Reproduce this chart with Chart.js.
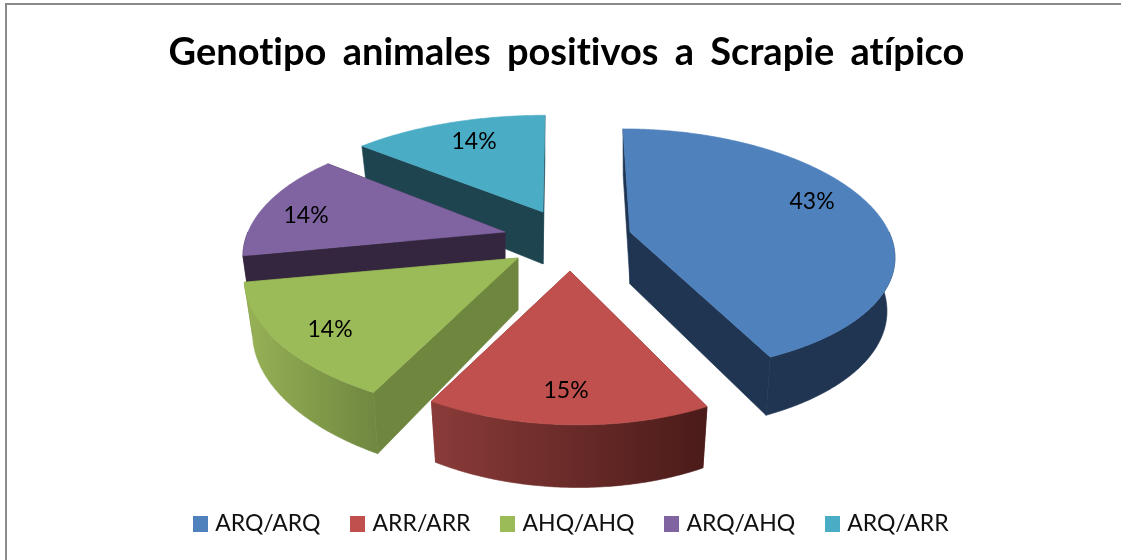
<!DOCTYPE html>
<html><head><meta charset="utf-8">
<style>html,body{margin:0;padding:0;background:#fff}#w{width:1121px;height:560px}canvas{display:block}</style>
<script src="https://cdn.jsdelivr.net/npm/chart.js@4"></script>
</head><body><div id="w"><canvas id="c" width="1121" height="560"></canvas></div>
<script>
const TITLE = 'Genotipo animales positivos a Scrapie atípico';
const categories = ['ARQ/ARQ','ARR/ARR','AHQ/AHQ','ARQ/AHQ','ARQ/ARR'];
const percentValues = [43,15,14,14,14];
const topColors = ['#4F81BD','#C0504D','#9BBB59','#8064A2','#4BACC6'];
const wallColors = ['#1F3552','#7A3331','#6F863E','#35263F','#1E4450'];
const rimStart = ['#1F3552','#8A3B39','#97B256','#35263F','#1E4450'];
const rimEnd = ['#1F3552','#4A1B19','#708840','#35263F','#1E4450'];
const sliceApex = [[630,232],[570,271],[518,258],[505,232],[543,212]];
// per-slice view: radius x, radius y, perspective x, perspective y, skew
const sliceView = [[259,119,.18,.154,.068],[244,120,.22,.22,.054],[270,124,.22,.22,.123],[257,122,.22,.22,.051],[270,118,.22,.22,-.02]];
const labelDelta = [[182,-30],[-4,120],[-188,72],[-199,-16],[-69,-70]];
const paintOrder = [4,3,0,2,1];
const DEPTH = 52;

function project(i, theta, r){
  const [rx, ry, px, py, s] = sliceView[i], c = Math.cos(theta);
  const dy = -ry * r * c / (1 + py * r * c);
  const dx = rx * r * Math.sin(theta) / (1 + px * r * c) + s * dy;
  return {x: sliceApex[i][0] + dx, y: sliceApex[i][1] + dy, w: 1 + py * r * c};
}
function lower(i, p){
  const ax = sliceApex[i][0];
  return {x: ax + (p.x - ax) * 0.97, y: p.y + DEPTH * Math.pow(1 / p.w, 0.75)};
}
function arcPoints(i, a0, a1){
  const n = Math.max(2, Math.ceil(Math.abs(a1 - a0) / 0.01)), pts = [];
  for (let k = 0; k <= n; k++) pts.push(project(i, a0 + (a1 - a0) * k / n, 1));
  return pts;
}
function fillPoly(ctx, pts, fill){
  ctx.beginPath();
  pts.forEach((p, k) => k ? ctx.lineTo(p.x, p.y) : ctx.moveTo(p.x, p.y));
  ctx.closePath();
  ctx.fillStyle = fill; ctx.strokeStyle = fill; ctx.lineWidth = 0.6;
  ctx.fill(); ctx.stroke();
}
const pie3d = {
  id: 'pie3d',
  beforeDatasetDraw(chart){
    const ctx = chart.ctx, arcs = chart.getDatasetMeta(0).data;
    ctx.save();
    paintOrder.forEach(i => {
      const a0 = arcs[i].startAngle + Math.PI / 2, a1 = arcs[i].endAngle + Math.PI / 2;
      const apex = project(i, 0, 0);
      const pts = arcPoints(i, a0, a1);
      [pts[0], pts[pts.length - 1]].forEach(e => {
        fillPoly(ctx, [apex, e, lower(i, e), lower(i, apex)], wallColors[i]);
      });
      const f0 = Math.max(a0, Math.PI / 2), f1 = Math.min(a1, Math.PI * 1.5);
      if (f1 > f0) {
        const rim = arcPoints(i, f0, f1);
        const low = rim.map(p => lower(i, p)).reverse();
        const xs = rim.map(p => p.x);
        const g = ctx.createLinearGradient(Math.min(...xs), 0, Math.max(...xs), 0);
        g.addColorStop(0, rimStart[i]);
        g.addColorStop(1, rimEnd[i]);
        fillPoly(ctx, rim.concat(low), g);
      }
      fillPoly(ctx, [apex].concat(pts), topColors[i]);
    });
    ctx.fillStyle = '#000'; ctx.font = '23px Lato'; ctx.textAlign = 'center'; ctx.textBaseline = 'middle';
    percentValues.forEach((v, i) => {
      ctx.fillText(v + '%', sliceApex[i][0] + labelDelta[i][0], sliceApex[i][1] + labelDelta[i][1]);
    });
    ctx.restore();
    return false;
  }
};
const frame = {
  id: 'frame',
  afterLayout(chart){
    chart.titleBlock.left += 6; chart.titleBlock.right += 6;
    chart.legend.left += 12; chart.legend.right += 12;
  },
  beforeDraw(chart){
    const ctx = chart.ctx;
    ctx.save(); ctx.strokeStyle = '#8A8A8A'; ctx.lineWidth = 2;
    ctx.beginPath(); ctx.moveTo(6, 560); ctx.lineTo(6, 4); ctx.lineTo(1121, 4); ctx.stroke();
    ctx.restore();
    ctx.wordSpacing = '7px'; ctx.letterSpacing = '0.01px';
  },
  afterDraw(chart){ chart.ctx.wordSpacing = '0px'; chart.ctx.letterSpacing = '0px'; }
};
function swatch(color){
  const s = document.createElement('canvas'); s.width = 15; s.height = 16;
  const g = s.getContext('2d'); g.fillStyle = color; g.fillRect(0, 0, 15, 16);
  return s;
}
new Chart(document.getElementById('c'), {
  type: 'pie',
  data: {labels: categories, datasets: [{data: percentValues, backgroundColor: topColors, borderWidth: 0}]},
  options: {
    responsive: false, animation: false,
    layout: {padding: {top: 30, bottom: 15}},
    plugins: {
      title: {display: true, text: TITLE, color: '#000', font: {family: 'Lato', size: 38, weight: 'bold'}, padding: {top: 0, bottom: 10}},
      legend: {position: 'bottom', labels: {
        usePointStyle: true, pointStyleWidth: 7, boxHeight: 15, padding: 33.5, color: '#111', font: {family: 'Lato', size: 23},
        generateLabels(chart){
          return Chart.overrides.pie.plugins.legend.labels.generateLabels(chart).map((it, i) => Object.assign(it, {pointStyle: swatch(topColors[i])}));
        }
      }},
      tooltip: {enabled: false}
    }
  },
  plugins: [frame, pie3d]
});
</script></body></html>
